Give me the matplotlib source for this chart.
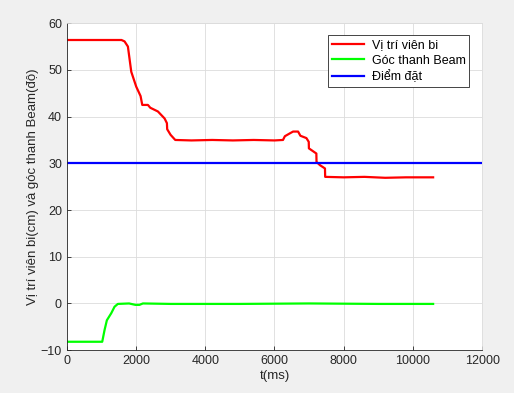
import matplotlib
matplotlib.use("Agg")
import matplotlib.pyplot as plt
import numpy as np

plt.rcParams["font.family"] = ["Liberation Sans", "DejaVu Sans"]

# ball position (cm)
pos_t = [0, 1580, 1668, 1765, 1862, 2006, 2131, 2180, 2343, 2411, 2632, 2825,
         2892, 2900, 2998, 3133, 3600, 4200, 4800, 5400, 6000, 6246, 6300,
         6441, 6538, 6682, 6749, 6923, 6990, 6995, 7210, 7215, 7315, 7459,
         7465, 8000, 8600, 9200, 9800, 10584]
pos_v = [56.4, 56.4, 56.1, 55.0, 49.6, 46.4, 44.4, 42.5, 42.5, 41.9, 41.1, 39.6,
         38.6, 37.3, 36.1, 35.0, 34.9, 35.0, 34.9, 35.0, 34.9, 35.0, 35.8,
         36.4, 36.8, 36.8, 35.9, 35.4, 34.6, 33.2, 32.1, 30.3, 29.6, 28.9,
         27.1, 27.0, 27.1, 26.9, 27.0, 27.0]

# beam angle (deg)
ang_t = [0, 1023, 1090, 1157, 1283, 1379, 1475, 1800, 1980, 2100, 2198, 3000,
         5000, 7000, 9000, 10584]
ang_v = [-8.2, -8.2, -5.7, -3.6, -2.1, -0.7, -0.1, 0.0, -0.3, -0.3, 0.0, -0.1,
         -0.1, 0.0, -0.1, -0.1]

# set point
set_t = [0, 12000]
set_v = [30, 30]

fig = plt.figure(figsize=(5.14, 3.93), dpi=100, facecolor="#f0f0f0")
ax = fig.add_axes([0.130, 0.109, 0.808, 0.832])
ax.set_facecolor("white")

ax.plot(pos_t, pos_v, color="#ff0000", lw=1.6, label="Vị trí viên bi")
ax.plot(ang_t, ang_v, color="#00ff00", lw=1.6, label="Góc thanh Beam")
ax.plot(set_t, set_v, color="#0000ff", lw=1.6, label="Điểm đặt")

ax.set_xlim(0, 12000)
ax.set_ylim(-10, 60)
ax.set_xticks(np.arange(0, 12001, 2000))
ax.set_yticks(np.arange(-10, 61, 10))
ax.grid(True, color="#dcdcdc", lw=0.6)
ax.set_axisbelow(True)
ax.tick_params(direction="in", labelsize=9, colors="#262626", length=3, width=0.6)
for side in ["left", "bottom"]:
    ax.spines[side].set_color("#262626")
    ax.spines[side].set_linewidth(0.6)
for side in ["top", "right"]:
    ax.spines[side].set_color("#dcdcdc")
    ax.spines[side].set_linewidth(0.6)

ax.set_xlabel("t(ms)", fontsize=9.5, color="#262626", labelpad=2)
ax.set_ylabel("Vị trí viên bi(cm) và góc thanh Beam(độ)", fontsize=9.5,
              color="#262626", labelpad=1)

leg = ax.legend(loc="upper right", bbox_to_anchor=(0.969, 0.963), borderaxespad=0,
                fontsize=9, fancybox=False, framealpha=1, edgecolor="#262626",
                handlelength=2.6, handletextpad=0.6, borderpad=0.3,
                labelspacing=0.28)
leg.get_frame().set_linewidth(0.6)

fig.savefig("out.png", dpi=100, facecolor=fig.get_facecolor())
